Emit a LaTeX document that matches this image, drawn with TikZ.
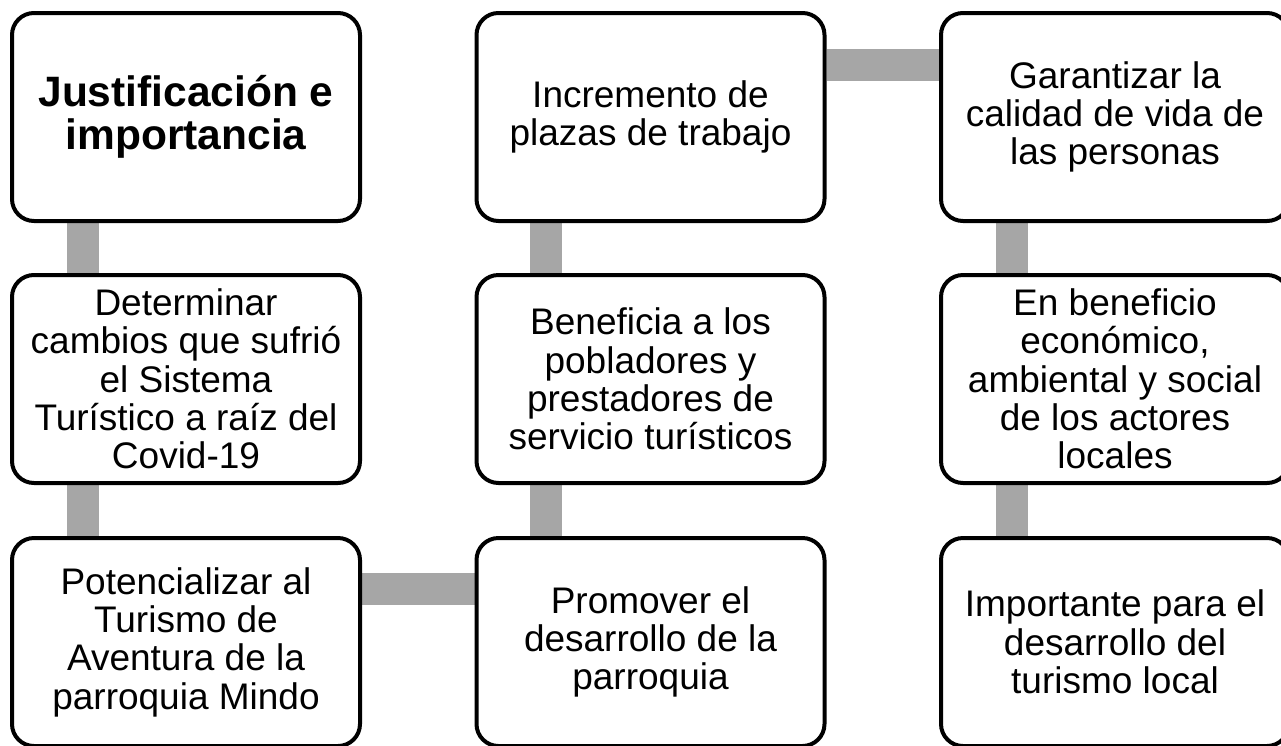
\documentclass[tikz,border=0pt]{standalone}
\usepackage{fontspec}
\setmainfont{Liberation Sans}
\usetikzlibrary{backgrounds}
\definecolor{bargray}{RGB}{166,166,166}
\begin{document}
\begin{tikzpicture}[x=1pt,y=-1pt,
  box/.style={draw=black, line width=4pt, rounded corners=22pt, fill=white,
    minimum width=348pt, minimum height=208pt, inner sep=0pt, align=center,
    font=\fontsize{37}{38.3}\selectfont},
  titlebox/.style={box, font=\fontsize{42.5}{43.5}\selectfont\bfseries},
  bar/.style={line width=32pt, draw=bargray}]
\clip (0,0) rectangle (1281,745);
\useasboundingbox (0,0) rectangle (1281,745);
% column 1
\node[titlebox] (j) at (186,117) {Justificación e\\importancia};
\node[box] (d) at (186,379) {Determinar\\cambios que sufrió\\el Sistema\\Turístico a raíz del\\Covid-19};
\node[box] (p) at (186,642) {Potencializar al\\Turismo de\\Aventura de la\\parroquia Mindo};
% column 2
\node[box] (pr) at (650.5,642) {Promover el\\desarrollo de la\\parroquia};
\node[box] (b) at (650.5,379) {Beneficia a los\\pobladores y\\prestadores de\\servicio turísticos};
\node[box] (i) at (650.5,117) {Incremento de\\plazas de trabajo};
% column 3
\node[box] (g) at (1115,117) {Garantizar la\\calidad de vida de\\las personas};
\node[box] (e) at (1115,379) {En beneficio\\económico,\\ambiental y social\\de los actores\\locales};
\node[box] (im) at (1115,642) {Importante para el\\desarrollo del\\turismo local};
\begin{scope}[on background layer]
\draw[bar] ([xshift=-103.5pt]j.south) -- ([xshift=-103.5pt]d.north);
\draw[bar] ([xshift=-103.5pt]d.south) -- ([xshift=-103.5pt]p.north);
\draw[bar] ([yshift=53.5pt]p.east) -- ([yshift=53.5pt]pr.west);
\draw[bar] ([xshift=-104.5pt]pr.north) -- ([xshift=-104.5pt]b.south);
\draw[bar] ([xshift=-104.5pt]b.north) -- ([xshift=-104.5pt]i.south);
\draw[bar] ([yshift=52.5pt]i.east) -- ([yshift=52.5pt]g.west);
\draw[bar] ([xshift=-103pt]g.south) -- ([xshift=-103pt]e.north);
\draw[bar] ([xshift=-103pt]e.south) -- ([xshift=-103pt]im.north);
\end{scope}
\end{tikzpicture}
\end{document}
